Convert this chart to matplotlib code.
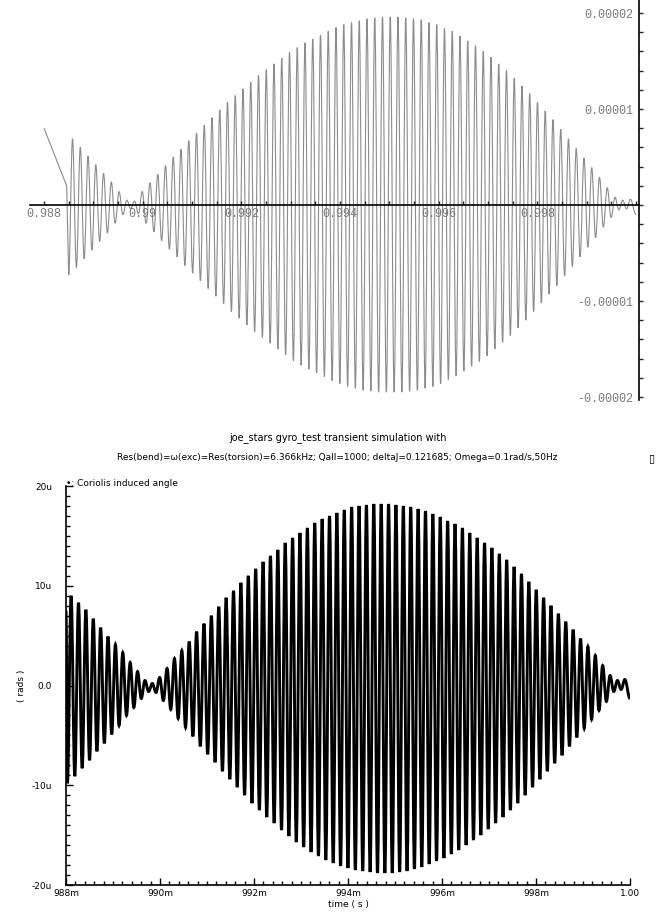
import numpy as np
import matplotlib
matplotlib.use("Agg")
import matplotlib.pyplot as plt
from matplotlib.path import Path
from matplotlib.patches import PathPatch
from matplotlib.ticker import FixedLocator, MultipleLocator, FixedFormatter

# ---------------- data ----------------
freq_khz = 6.366                 # excitation frequency from the title

# lower plot: peaks in micro-rad, one positive and one negative per cycle
bot_first_min_ms = 988.03
bot_upper = [9.0, 8.3, 7.6, 6.7, 5.8, 4.9, 4.1, 3.3, 2.3, 1.4, 0.5, 0.2, 0.8, 1.7,
             2.7, 3.5, 4.4, 5.4, 6.2, 7.0, 7.9, 8.8, 9.5, 10.3, 11.0, 11.7, 12.4,
             13.0, 13.6, 14.3, 14.8, 15.3, 15.8, 16.3, 16.7, 17.0, 17.3, 17.6, 17.9,
             18.0, 18.1, 18.2, 18.2, 18.2, 18.1, 18.0, 17.9, 17.7, 17.5, 17.2, 16.9,
             16.5, 16.2, 15.8, 15.3, 14.8, 14.3, 13.8, 13.2, 12.6, 11.9, 11.2, 10.4,
             9.6, 8.8, 8.0, 7.2, 6.4, 5.6, 4.7, 3.9, 3.0, 2.0, 1.0, 0.5, 0.6]
bot_lower = [-9.8, -9.1, -8.3, -7.5, -6.6, -5.8, -4.9, -4.0, -3.0, -2.2, -1.3, -0.6,
             -0.7, -1.5, -2.4, -3.3, -4.2, -5.1, -6.1, -6.9, -7.7, -8.6, -9.4, -10.2,
             -11.0, -11.8, -12.5, -13.2, -13.8, -14.5, -15.1, -15.7, -16.2, -16.7,
             -17.1, -17.5, -17.8, -18.1, -18.3, -18.5, -18.6, -18.7, -18.8, -18.8,
             -18.8, -18.7, -18.6, -18.4, -18.2, -17.9, -17.6, -17.3, -16.9, -16.5,
             -16.0, -15.5, -15.0, -14.4, -13.8, -13.2, -12.5, -11.8, -11.0, -10.2,
             -9.4, -8.6, -7.8, -7.0, -6.1, -5.2, -4.3, -3.4, -2.5, -1.6, -0.6, -0.4]
bot_start = (988.0, 7.5)         # (ms, micro-rad)
bot_end = (1000.0, -1.3)

# upper plot: peaks in units of 1e-6, one positive and one negative per cycle
top_first_min_ms = 988.50
top_upper = [6.9, 6.0, 5.1, 4.2, 3.3, 2.4, 1.4, 0.5, 0.4, 1.4, 2.3, 3.2, 4.1,
             5.0, 5.8, 6.7, 7.5, 8.3, 9.1, 9.9, 10.7, 11.4, 12.1, 12.8, 13.5,
             14.1, 14.7, 15.3, 15.9, 16.4, 16.9, 17.3, 17.7, 18.1, 18.5, 18.8,
             19.0, 19.2, 19.4, 19.5, 19.6, 19.6, 19.6, 19.5, 19.4, 19.3, 19.0,
             18.8, 18.4, 18.1, 17.6, 17.1, 16.6, 16.0, 15.4, 14.7, 14.0, 13.2,
             12.4, 11.6, 10.7, 9.8, 8.9, 7.9, 6.9, 5.9, 4.9, 3.9, 2.9, 1.8, 0.8,
             0.5, 0.6]
top_lower = [-7.3, -6.5, -5.6, -4.7, -3.8, -2.9, -1.9, -1.0, -0.4, -0.9, -1.9,
             -2.8, -3.7, -4.6, -5.4, -6.3, -7.1, -7.9, -8.7, -9.5, -10.3, -11.1,
             -11.8, -12.5, -13.2, -13.8, -14.4, -15.0, -15.6, -16.2, -16.7, -17.1,
             -17.5, -17.9, -18.3, -18.6, -18.9, -19.1, -19.3, -19.4, -19.5, -19.5,
             -19.5, -19.5, -19.4, -19.3, -19.1, -18.9, -18.6, -18.2, -17.8, -17.3,
             -16.8, -16.3, -15.7, -15.0, -14.3, -13.6, -12.8, -12.0, -11.1, -10.2,
             -9.3, -8.4, -7.4, -6.4, -5.4, -4.4, -3.4, -2.3, -1.3, -0.5, -0.4]
top_lead = [(988.0, 8.0), (988.46, 2.0)]   # lead-in segment of the upper plot
top_end = (1000.0, -1.0)

top_xticks = [0.988, 0.990, 0.992, 0.994, 0.996, 0.998]
top_xlabels = ["0.988", "0.99", "0.992", "0.994", "0.996", "0.998"]
top_yticks = [2e-5, 1e-5, -1e-5, -2e-5]
top_ylabels = ["0.00002", "0.00001", "-0.00001", "-0.00002"]

bot_xticks = [0.988, 0.990, 0.992, 0.994, 0.996, 0.998, 1.000]
bot_xlabels = ["988m", "990m", "992m", "994m", "996m", "998m", "1.00"]
bot_yticks = [20e-6, 10e-6, 0.0, -10e-6, -20e-6]
bot_ylabels = ["20u", "10u", "0.0", "-10u", "-20u"]

title1 = "joe_stars gyro_test transient simulation with"
title2 = ("Res(bend)=\u03c9(exc)=Res(torsion)=6.366kHz; Qall=1000; "
          "deltaJ=0.121685; Omega=0.1rad/s,50Hz")
legend_text = "\u2022: Coriolis induced angle"

# ---------------- build series ----------------
period_ms = 1.0 / freq_khz


def series(first_min, lows, ups, head, tail):
    pts = list(head)
    for k, (lo, up) in enumerate(zip(lows, ups)):
        t_lo = first_min + k * period_ms
        pts.append((t_lo, lo))
        pts.append((t_lo + 0.5 * period_ms, up))
    pts += list(tail)
    t = np.array([p[0] for p in pts]) * 1e-3
    v = np.array([p[1] for p in pts]) * 1e-6
    return t, v


bot_t, bot_v = series(bot_first_min_ms, bot_lower, bot_upper, [bot_start], [bot_end])
top_t, top_v = series(top_first_min_ms, top_lower, top_upper, top_lead, [top_end])


def smooth_path(t, v, c=0.37, straight_first=0):
    """Path through the points, with smooth (horizontal-tangent) peaks."""
    verts = [(t[0], v[0])]
    codes = [Path.MOVETO]
    for i in range(1, len(t)):
        t0, v0, t1, v1 = t[i - 1], v[i - 1], t[i], v[i]
        if i <= straight_first:
            verts.append((t1, v1))
            codes.append(Path.LINETO)
            continue
        d = (t1 - t0) * c
        verts += [(t0 + d, v0), (t1 - d, v1), (t1, v1)]
        codes += [Path.CURVE4] * 3
    return Path(verts, codes)


# ---------------- figure ----------------
W, H = 670, 913
fig = plt.figure(figsize=(W / 100, H / 100), dpi=100)
fig.patch.set_facecolor("white")


def box(l, t, r, b):
    return [l / W, 1 - b / H, (r - l) / W, (b - t) / H]


# ----- upper plot -----
ax1 = fig.add_axes(box(30, 0, 639, 400))
px_per_unit = 96.0 / 1e-5
zero_px = 205.0
ax1.set_xlim(0.988 - 14 / 49.33e3, 0.988 + 595 / 49.33e3)
ax1.set_ylim(-(400 - zero_px) / px_per_unit, zero_px / px_per_unit)
ax1.add_patch(PathPatch(smooth_path(top_t, top_v, straight_first=2), fill=False,
                        edgecolor="#8c8c8c", lw=0.8))
for s in ("top", "right"):
    ax1.spines[s].set_visible(False)
ax1.spines["bottom"].set_position(("data", 0))
ax1.spines["left"].set_position(("axes", 1.0))
ax1.spines["bottom"].set_linewidth(1.2)
ax1.spines["left"].set_linewidth(1.2)
ax1.xaxis.set_major_locator(FixedLocator(top_xticks))
ax1.xaxis.set_major_formatter(FixedFormatter(top_xlabels))
ax1.xaxis.set_minor_locator(MultipleLocator(0.0005))
ax1.yaxis.set_major_locator(FixedLocator(top_yticks))
ax1.yaxis.set_major_formatter(FixedFormatter(top_ylabels))
ax1.yaxis.set_minor_locator(MultipleLocator(0.2e-5))
ax1.tick_params(axis="both", which="both", direction="in", length=3, width=1,
                labelsize=8.5, colors="#222222")
for lab in ax1.get_xticklabels() + ax1.get_yticklabels():
    lab.set_fontfamily("Liberation Mono")
    lab.set_color("#7a7a7a")
ax1.tick_params(axis="x", pad=2)
ax1.tick_params(axis="y", pad=4)

# ----- titles -----
fig.text(338 / W, 1 - 438 / H, title1, ha="center", va="center",
         fontsize=7, family="DejaVu Sans")
fig.text(337 / W, 1 - 457 / H, title2, ha="center", va="center",
         fontsize=6.5, family="DejaVu Sans")
fig.text(652 / W, 1 - 458 / H, "\u25af", ha="center", va="center",
         fontsize=8, family="DejaVu Sans", fontweight="bold")
fig.text(66 / W, 1 - 483 / H, legend_text, ha="left", va="center",
         fontsize=6.5, family="DejaVu Sans")

# ----- lower plot -----
ax2 = fig.add_axes(box(66, 486, 630, 885))
ax2.set_xlim(0.988, 1.000)
ax2.set_ylim(-20e-6, 20e-6)
ax2.add_patch(PathPatch(smooth_path(bot_t, bot_v), fill=False,
                        edgecolor="black", lw=2.1))
for s in ("top", "right"):
    ax2.spines[s].set_visible(False)
ax2.spines["left"].set_linewidth(1.2)
ax2.spines["bottom"].set_linewidth(1.2)
ax2.xaxis.set_major_locator(FixedLocator(bot_xticks))
ax2.xaxis.set_major_formatter(FixedFormatter(bot_xlabels))
ax2.xaxis.set_minor_locator(MultipleLocator(0.0002))
ax2.yaxis.set_major_locator(FixedLocator(bot_yticks))
ax2.yaxis.set_major_formatter(FixedFormatter(bot_ylabels))
ax2.yaxis.set_minor_locator(MultipleLocator(1e-6))
ax2.tick_params(axis="both", which="major", direction="in", length=5, width=1,
                labelsize=6.5)
ax2.tick_params(axis="both", which="minor", direction="in", length=3, width=1)
ax2.tick_params(axis="x", pad=3)
ax2.tick_params(axis="y", pad=10)
ax2.set_xlabel("time ( s )", fontsize=6.5, labelpad=1)
ax2.set_ylabel("( rads )", fontsize=6.5)
ax2.yaxis.set_label_coords(-40 / 564, 0.5)

fig.savefig("out.png", dpi=100, facecolor="white")
